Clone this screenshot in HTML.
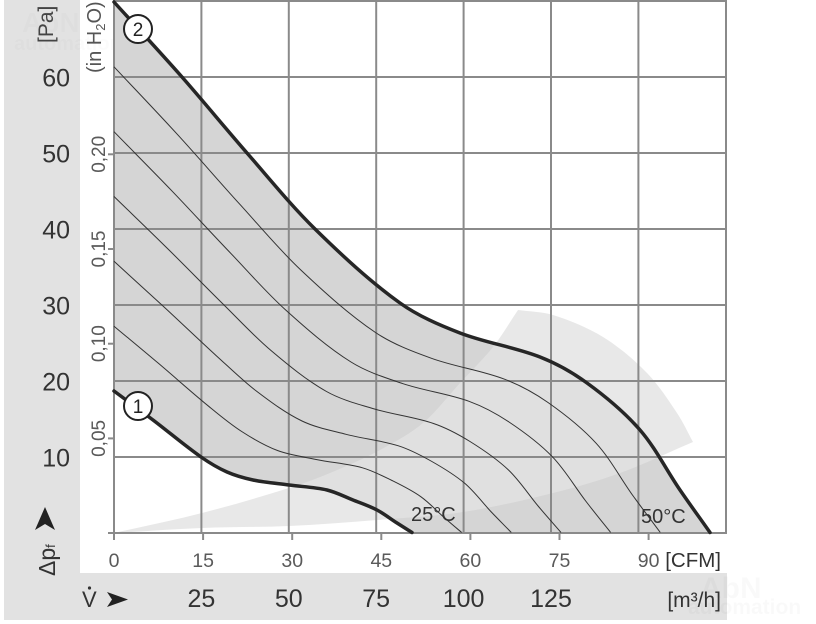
<!DOCTYPE html>
<html><head><meta charset="utf-8">
<style>
html,body{margin:0;padding:0;background:#fff;}
body{width:816px;height:624px;overflow:hidden;}
svg{display:block;font-family:"Liberation Sans",Arial,sans-serif;}
</style></head><body>
<svg id="s" width="816" height="624" viewBox="0 0 816 624" xmlns="http://www.w3.org/2000/svg">
<rect x="4" y="0" width="76" height="620" fill="#e2e2e2"/>
<rect x="4" y="573" width="723" height="47" fill="#e2e2e2"/>
<!-- watermarks -->
<text x="22" y="32" font-size="28" font-weight="bold" fill="#000" fill-opacity="0.015">AbN</text>
<text x="14" y="50" font-size="20" font-weight="bold" fill="#000" fill-opacity="0.015">automation</text>
<text x="700" y="598" font-size="30" font-weight="bold" fill="#000" fill-opacity="0.025">AbN</text>
<text x="688" y="614" font-size="21" font-weight="bold" fill="#000" fill-opacity="0.025">automation</text>

<path id="band" fill="#d5d5d5"/>
<path id="wedge" fill="#e3e3e3" fill-opacity="0.81"/>

<g stroke="#8a8a8a" stroke-width="2" fill="none">
  <line x1="113" y1="1" x2="727" y2="1"/>
  <line x1="114" y1="77" x2="726" y2="77"/>
  <line x1="114" y1="153" x2="726" y2="153"/>
  <line x1="114" y1="229" x2="726" y2="229"/>
  <line x1="114" y1="305" x2="726" y2="305"/>
  <line x1="114" y1="381" x2="726" y2="381"/>
  <line x1="114" y1="457" x2="726" y2="457"/>
  <line x1="108" y1="533" x2="727" y2="533"/>
  <line x1="114" y1="1" x2="114" y2="540"/>
  <line x1="201.4" y1="1" x2="201.4" y2="533"/>
  <line x1="288.8" y1="1" x2="288.8" y2="533"/>
  <line x1="376.2" y1="1" x2="376.2" y2="533"/>
  <line x1="463.6" y1="1" x2="463.6" y2="533"/>
  <line x1="551" y1="1" x2="551" y2="533"/>
  <line x1="638.4" y1="1" x2="638.4" y2="533"/>
  <line x1="726" y1="0" x2="726" y2="534"/>
  <!-- inH2O ticks -->
  <line x1="108" y1="438.4" x2="114" y2="438.4"/>
  <line x1="108" y1="343.7" x2="114" y2="343.7"/>
  <line x1="108" y1="249" x2="114" y2="249"/>
  <line x1="108" y1="154.3" x2="114" y2="154.3"/>
  <!-- CFM ticks -->
  <line x1="203.1" y1="533" x2="203.1" y2="540"/>
  <line x1="292.2" y1="533" x2="292.2" y2="540"/>
  <line x1="381.3" y1="533" x2="381.3" y2="540"/>
  <line x1="470.4" y1="533" x2="470.4" y2="540"/>
  <line x1="559.5" y1="533" x2="559.5" y2="540"/>
  <line x1="648.6" y1="533" x2="648.6" y2="540"/>
</g>

<g id="thin" stroke="#333" stroke-width="1" fill="none"></g>
<path id="c1" stroke="#262626" stroke-width="3.5" fill="none" stroke-linecap="round"/>
<path id="c2" stroke="#262626" stroke-width="3.5" fill="none" stroke-linecap="round"/>

<circle cx="138" cy="29" r="14" fill="#fff" stroke="#222" stroke-width="2"/>
<text x="138" y="36" font-size="19" fill="#222" text-anchor="middle">2</text>
<circle cx="138" cy="406" r="14" fill="#fff" stroke="#222" stroke-width="2"/>
<text x="138" y="413" font-size="19" fill="#222" text-anchor="middle">1</text>

<text x="411" y="521" font-size="20" fill="#333">25°C</text>
<text x="641" y="523" font-size="20" fill="#333">50°C</text>

<!-- Pa labels -->
<g font-size="25" fill="#333" text-anchor="end">
  <text x="70" y="86.5">60</text>
  <text x="70" y="162.5">50</text>
  <text x="70" y="238.5">40</text>
  <text x="70" y="314.5">30</text>
  <text x="70" y="390.5">20</text>
  <text x="70" y="466.5">10</text>
</g>
<text transform="translate(53,43) rotate(-90)" font-size="21" fill="#444">[Pa]</text>
<text transform="translate(101,73) rotate(-90)" font-size="20" fill="#555">(in H<tspan font-size="13" dy="4">2</tspan><tspan dy="-4">O)</tspan></text>

<g font-size="19" fill="#5a5a5a" text-anchor="middle">
  <text transform="translate(105,438.4) rotate(-90)">0,05</text>
  <text transform="translate(105,343.7) rotate(-90)">0,10</text>
  <text transform="translate(105,249) rotate(-90)">0,15</text>
  <text transform="translate(105,154.3) rotate(-90)">0,20</text>
</g>

<!-- Δpf -->
<polygon points="35,530 45,507 55,530 45,524" fill="#222"/>
<text transform="translate(55,576) rotate(-90)" font-size="23" fill="#333">Δp<tspan font-size="13">f</tspan></text>

<!-- CFM labels -->
<g font-size="19.5" fill="#5a5a5a" text-anchor="middle">
  <text x="114" y="567">0</text>
  <text x="203.1" y="567">15</text>
  <text x="292.2" y="567">30</text>
  <text x="381.3" y="567">45</text>
  <text x="470.4" y="567">60</text>
  <text x="559.5" y="567">75</text>
  <text x="648.6" y="567">90</text>
</g>
<text x="721" y="567" font-size="20.5" fill="#333" text-anchor="end">[CFM]</text>

<!-- m3/h labels -->
<g font-size="25" fill="#333" text-anchor="middle">
  <text x="201.4" y="607">25</text>
  <text x="288.8" y="607">50</text>
  <text x="376.2" y="607">75</text>
  <text x="463.6" y="607">100</text>
  <text x="551" y="607">125</text>
</g>
<text x="721" y="607" font-size="21" fill="#333" text-anchor="end">[m³/h]</text>

<text x="82" y="607" font-size="22" fill="#333">V</text>
<circle cx="89.5" cy="588" r="1.6" fill="#333"/>
<polygon points="107,592 128,599.5 107,607 112,599.5" fill="#222"/>
</svg>
<script>
(function(){
  var NS="http://www.w3.org/2000/svg";
  function dist(a,b){var dx=a[0]-b[0],dy=a[1]-b[1];return Math.sqrt(dx*dx+dy*dy)||1e-6;}
  function seg(pts, move){
    var n=pts.length, T=[];
    for(var i=0;i<n;i++){
      var a=pts[i-1]||pts[i], b=pts[i+1]||pts[i];
      var L=dist(a,pts[i])*(i>0?1:0)+dist(pts[i],b)*(i<n-1?1:0);
      if(i===0||i===n-1){L=dist(a,b);}
      T.push([(b[0]-a[0])/L,(b[1]-a[1])/L]);
    }
    var d=(move?"M":"L")+pts[0][0].toFixed(1)+","+pts[0][1].toFixed(1);
    for(var i=0;i<n-1;i++){
      var p1=pts[i],p2=pts[i+1],s=dist(p1,p2)/3;
      var c1x=p1[0]+T[i][0]*s,c1y=p1[1]+T[i][1]*s;
      var c2x=p2[0]-T[i+1][0]*s,c2y=p2[1]-T[i+1][1]*s;
      d+=" C"+c1x.toFixed(1)+","+c1y.toFixed(1)+" "+c2x.toFixed(1)+","+c2y.toFixed(1)+" "+p2[0].toFixed(1)+","+p2[1].toFixed(1);
    }
    return d;
  }
  var C1=[[114,391],[153,420],[201,457],[227,472],[253,480],[289,485],[327,490],[353,500],[377,510],[397,523],[412,532.5]];
  var C2=[[114,2],[182,77],[247,153],[315,229],[400,303],[460,333],[540,357],[587,383],[640,430],[680,490],[710,532.5]];
  document.getElementById("c1").setAttribute("d", seg(C1,true));
  document.getElementById("c2").setAttribute("d", seg(C2,true));
  var rev=C1.slice().reverse();
  document.getElementById("band").setAttribute("d", seg(C2,true)+" "+seg(rev,false)+" Z");
  var up=[[114,533],[202,513],[289,488],[330,473],[380,450],[423,423],[460,383],[493,347],[518,310]];
  var arc=[[518,310],[553,315],[603,337],[647,373],[677,413],[693,442]];
  var lo=[[693,442],[620,473],[553,493],[463,512],[377,520],[289,526],[202,528],[114,533]];
  document.getElementById("wedge").setAttribute("d", seg(up,true)+" "+seg(arc,false)+" "+seg(lo,false)+" Z");
  var g=document.getElementById("thin");
  for(var k=1;k<=5;k++){
    var f=k/6, pts=[];
    for(var i=0;i<C1.length;i++){
      pts.push([C1[i][0]+f*(C2[i][0]-C1[i][0]), C1[i][1]+f*(C2[i][1]-C1[i][1])]);
    }
    var p=document.createElementNS(NS,"path");
    p.setAttribute("d", seg(pts,true));
    g.appendChild(p);
  }
})();
</script>
</body></html>
